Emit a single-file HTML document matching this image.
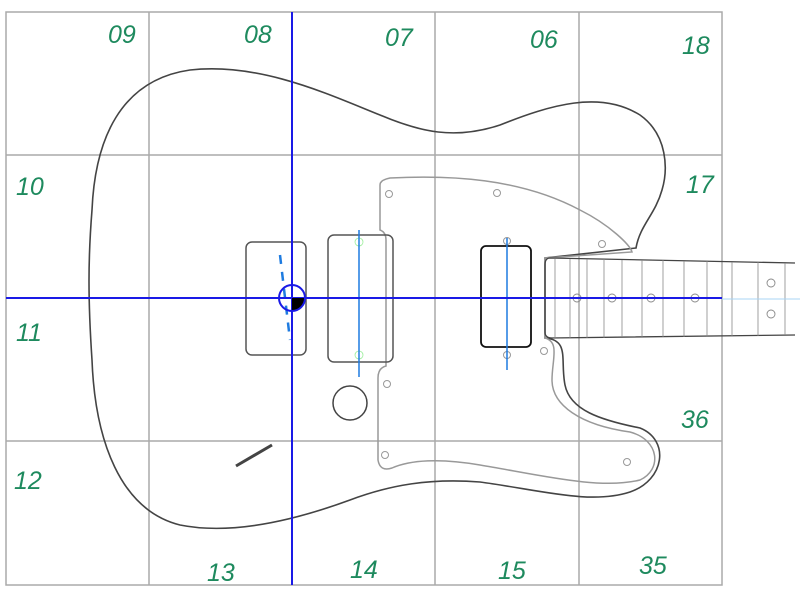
<!DOCTYPE html>
<html><head><style>html,body{margin:0;padding:0;background:#fff}svg{display:block}
text{font-family:"Liberation Sans",sans-serif;font-style:italic;font-size:25px;fill:#1e8a5e}</style></head>
<body>
<svg width="800" height="600" viewBox="0 0 800 600" xmlns="http://www.w3.org/2000/svg">
<g stroke="#aaa" stroke-width="1.5" fill="none">
<rect x="6" y="12" width="716" height="573"/>
<line x1="149" y1="12" x2="149" y2="585"/><line x1="435" y1="12" x2="435" y2="585"/><line x1="579" y1="12" x2="579" y2="585"/>
<line x1="6" y1="155" x2="722" y2="155"/><line x1="6" y1="441" x2="722" y2="441"/>
</g>
<path d="M92,210 C95,140 120,80 190,70 C260,62 330,95 380,115 C420,132 455,140 500,125 C550,105 600,90 640,115 C668,135 668,170 662,190 C655,215 640,225 636,248 L545,258 L545,338 C570,340 560,360 565,385 C570,410 600,420 640,428 C670,440 665,480 630,492 C590,505 540,490 480,482 C430,478 390,485 350,500 C290,522 230,535 180,525 C120,510 95,440 92,360 C88,300 88,260 92,210 Z" fill="none" stroke="#444" stroke-width="1.6"/>
<path d="M380,185 Q380,180 390,178 C450,175 520,178 580,210 C610,225 630,245 632,252 L545,258 L545,338 C560,342 552,360 552,380 C552,405 580,425 630,432 C660,440 662,470 640,480 C600,490 540,475 480,465 C440,458 410,460 392,468 Q380,472 378,460 L378,378 Q378,368 386,366 L386,240 Q386,232 380,230 Z" fill="none" stroke="#999" stroke-width="1.5"/>
<g fill="none" stroke="#999" stroke-width="1"><circle cx="389" cy="194" r="3.5"/><circle cx="497" cy="193" r="3.5"/><circle cx="602" cy="244" r="3.5"/><circle cx="544" cy="351" r="3.5"/><circle cx="387" cy="384" r="3.5"/><circle cx="385" cy="455" r="3.5"/><circle cx="627" cy="462" r="3.5"/><circle cx="507" cy="241" r="3.5"/><circle cx="507" cy="355" r="3.5"/></g>
<path d="M550,258 L795,263 M550,338 L795,335 M550,258 Q545,258 545,265 L545,332 Q545,338 552,338" fill="none" stroke="#444" stroke-width="1.3"/>
<g stroke="#888" stroke-width="0.8"><line x1="555" y1="259" x2="555" y2="338"/><line x1="570" y1="259" x2="570" y2="338"/><line x1="587" y1="259" x2="587" y2="338"/><line x1="604" y1="259" x2="604" y2="338"/><line x1="622" y1="260" x2="622" y2="337"/><line x1="642" y1="260" x2="642" y2="337"/><line x1="663" y1="260" x2="663" y2="337"/><line x1="684" y1="261" x2="684" y2="337"/><line x1="707" y1="261" x2="707" y2="337"/><line x1="732" y1="262" x2="732" y2="336"/><line x1="758" y1="262" x2="758" y2="336"/><line x1="785" y1="263" x2="785" y2="335"/></g>
<g fill="none" stroke="#888" stroke-width="0.9"><circle cx="577" cy="298" r="4"/><circle cx="612" cy="298" r="4"/><circle cx="651" cy="298" r="4"/><circle cx="695" cy="298" r="4"/><circle cx="771" cy="283" r="4"/><circle cx="771" cy="314" r="4"/></g>
<line x1="722" y1="299" x2="800" y2="299" stroke="#aad4f5" stroke-width="1"/>
<rect x="246" y="242" width="60" height="113" rx="6" fill="none" stroke="#555" stroke-width="1.5"/>
<rect x="328" y="235" width="65" height="127" rx="6" fill="none" stroke="#555" stroke-width="1.5"/>
<rect x="481" y="246" width="50" height="101" rx="5" fill="none" stroke="#111" stroke-width="1.8"/>
<circle cx="350" cy="403" r="17" fill="none" stroke="#444" stroke-width="1.5"/>
<line x1="236" y1="466" x2="272" y2="445" stroke="#444" stroke-width="3"/>
<g fill="none" stroke="#9e9" stroke-width="0.8"><circle cx="359" cy="242" r="4"/><circle cx="359" cy="355" r="4"/></g>
<line x1="359" y1="230" x2="359" y2="377" stroke="#1e7be0" stroke-width="1.5"/>
<line x1="507" y1="238" x2="507" y2="370" stroke="#1e7be0" stroke-width="1.5"/>
<line x1="280" y1="255" x2="290" y2="340" stroke="#1e7be0" stroke-width="2.5" stroke-dasharray="9,8"/>
<line x1="292" y1="12" x2="292" y2="585" stroke="#1a1ae6" stroke-width="2"/>
<line x1="6" y1="298" x2="722" y2="298" stroke="#1a1ae6" stroke-width="2"/>
<path d="M292,298 L305,298 A13,13 0 0 1 292,311 Z" fill="#000"/>
<circle cx="292" cy="298" r="13" fill="none" stroke="#1a1ae6" stroke-width="2"/>
<text x="108" y="43">09</text><text x="244" y="43">08</text><text x="385" y="46">07</text><text x="530" y="48">06</text><text x="682" y="54">18</text>
<text x="16" y="195">10</text><text x="686" y="193">17</text>
<text x="16" y="341">11</text><text x="681" y="428">36</text>
<text x="14" y="489">12</text>
<text x="207" y="581">13</text><text x="350" y="578">14</text><text x="498" y="579">15</text><text x="639" y="574">35</text>
</svg>
</body></html>
